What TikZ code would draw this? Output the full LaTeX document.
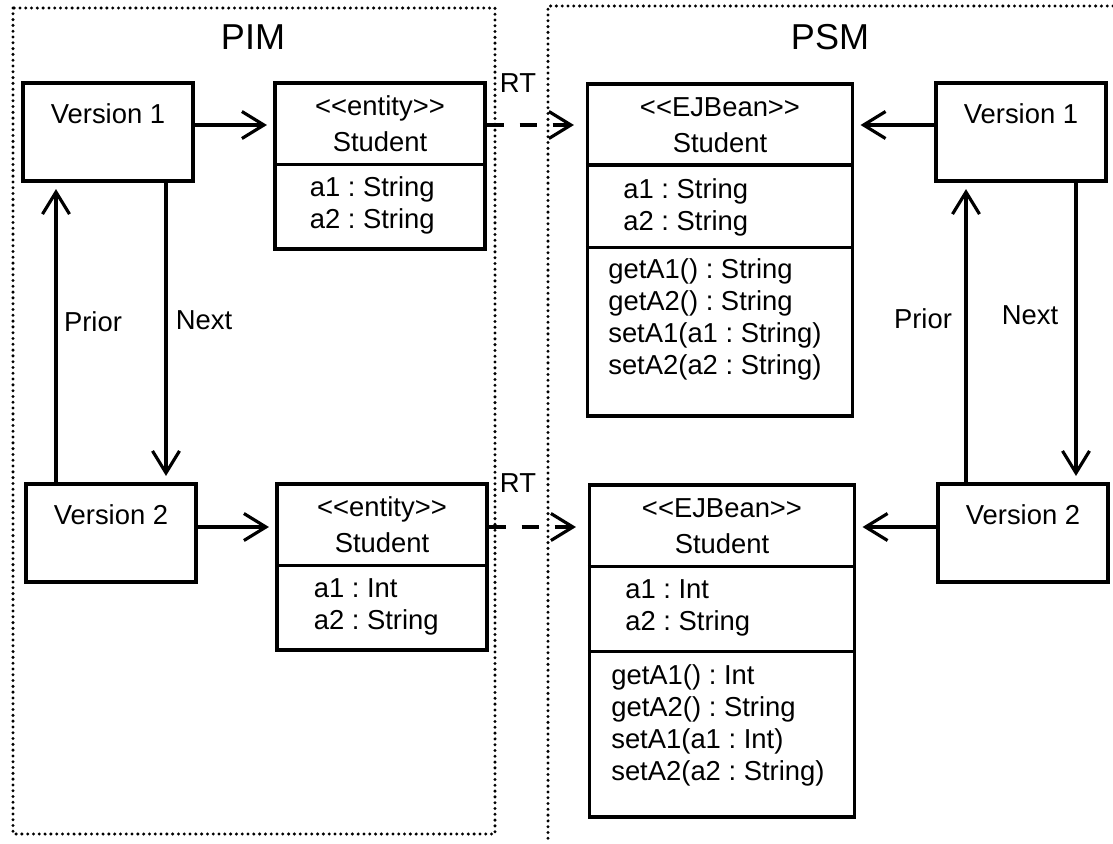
\documentclass[tikz,border=0pt]{standalone}
\usepackage{fontspec}
\setmainfont{Liberation Sans}[Ligatures=TeXOff]
\frenchspacing
\usetikzlibrary{arrows.meta}

\tikzset{
  frame/.style={line width=1.9pt, dash pattern=on 0pt off 3.3pt, line cap=round},
  verbox/.style={draw, line width=1.8pt, inner sep=0pt, minimum width=3.4cm,
    text height=0.8cm, text depth=1.16cm},
  classbox/.style={draw, line width=1.8pt, inner sep=0pt},
  entitybox/.style={classbox, minimum width=4.2cm, minimum height=3.32cm},
  beanbox/.style={classbox, minimum width=5.3cm, minimum height=6.64cm},
  divider/.style={line width=1.8pt},
  head/.style={align=center, inner sep=0pt},
  member/.style={align=left, anchor=north west, inner sep=0pt},
  title/.style={inner sep=0pt, font=\fontsize{20.5pt}{24pt}\selectfont},
  arr/.style={line width=1.8pt, -{Straight Barb[length=0.44cm,width=0.54cm]}, shorten >=0.13cm},
  rt/.style={arr, dash pattern=on 0.34cm off 0.32cm, shorten >=0.24cm}
}

\begin{document}
\begin{tikzpicture}[x=0.02cm,y=-0.02cm,font=\fontsize{15.6pt}{18.2pt}\selectfont]
\path[use as bounding box] (0,0) rectangle (1113,843);
% PIM / PSM frames
\draw[frame] (13,8) rectangle (495,834);
\draw[frame] (1113,6) -- (548,6) -- (548,843);
\node[title] (pim) at (253,37) {PIM};
\node[title] (psm) at (830,37) {PSM};

% version nodes
\node[verbox] (v1l) at (108,132) {Version 1};
\node[verbox] (v2l) at (111,533) {Version 2};
\node[verbox] (v1r) at (1021,132) {Version 1};
\node[verbox] (v2r) at (1023,533) {Version 2};

% PIM classes
\node[entitybox] (e1) at (380,166) {};
\draw[divider] ([yshift=-1.66cm]e1.north west) -- ([yshift=-1.66cm]e1.north east);
\node[head] (e1h) at ([yshift=-0.85cm]e1.north) {<<entity>>\\[2.3pt]Student};
\node[member] (e1a) at ([xshift=0.72cm,yshift=-1.9cm]e1.north west) {a1 : String\\a2 : String};

\node[entitybox] (e2) at (382,567) {};
\draw[divider] ([yshift=-1.66cm]e2.north west) -- ([yshift=-1.66cm]e2.north east);
\node[head] (e2h) at ([yshift=-0.85cm]e2.north) {<<entity>>\\[2.3pt]Student};
\node[member] (e2a) at ([xshift=0.76cm,yshift=-1.92cm]e2.north west) {a1 : Int\\a2 : String};

% PSM classes
\node[beanbox] (b1) at (720,250) {};
\draw[divider] ([yshift=-1.65cm]b1.north west) -- ([yshift=-1.65cm]b1.north east);
\draw[divider] ([yshift=-3.3cm]b1.north west) -- ([yshift=-3.3cm]b1.north east);
\node[head] (b1h) at ([yshift=-0.85cm]b1.north) {<<EJBean>>\\[2.3pt]Student};
\node[member] (b1a) at ([xshift=0.74cm,yshift=-1.92cm]b1.north west) {a1 : String\\a2 : String};
\node[member] (b1m) at ([xshift=0.44cm,yshift=-3.52cm]b1.north west)
  {getA1() : String\\getA2() : String\\setA1(a1 : String)\\setA2(a2 : String)};

\node[beanbox] (b2) at (722,651) {};
\draw[divider] ([yshift=-1.66cm]b2.north west) -- ([yshift=-1.66cm]b2.north east);
\draw[divider] ([yshift=-3.36cm]b2.north west) -- ([yshift=-3.36cm]b2.north east);
\node[head] (b2h) at ([yshift=-0.85cm]b2.north) {<<EJBean>>\\[2.3pt]Student};
\node[member] (b2a) at ([xshift=0.74cm,yshift=-1.92cm]b2.north west) {a1 : Int\\a2 : String};
\node[member] (b2m) at ([xshift=0.46cm,yshift=-3.62cm]b2.north west)
  {getA1() : Int\\getA2() : String\\setA1(a1 : Int)\\setA2(a2 : String)};

% rows and columns of the connectors
\coordinate (row1) at (0,125);
\coordinate (row2) at (0,527);
\coordinate (pl) at (56,0);
\coordinate (nl) at (166,0);
\coordinate (pr) at (966,0);
\coordinate (nr) at (1076,0);

\draw[arr] (v1l.east |- row1) -- (e1.west |- row1);
\draw[arr] (v2l.east |- row2) -- (e2.west |- row2);
\draw[arr] (v1r.west |- row1) -- (b1.east |- row1);
\draw[arr] (v2r.west |- row2) -- (b2.east |- row2);
\draw[rt] (e1.east |- row1) -- (b1.west |- row1);
\draw[rt] (e2.east |- row2) -- (b2.west |- row2);
\node (rt1) at (518,83) {RT};
\node (rt2) at (518,483) {RT};

\draw[arr] (v2l.north -| pl) -- (v1l.south -| pl);
\draw[arr] (v1l.south -| nl) -- (v2l.north -| nl);
\draw[arr] (v2r.north -| pr) -- (v1r.south -| pr);
\draw[arr] (v1r.south -| nr) -- (v2r.north -| nr);
\node (priorl) at (93,322) {Prior};
\node (nextl) at (204,320) {Next};
\node (priorr) at (923,319) {Prior};
\node (nextr) at (1030,315) {Next};
\end{tikzpicture}
\end{document}
